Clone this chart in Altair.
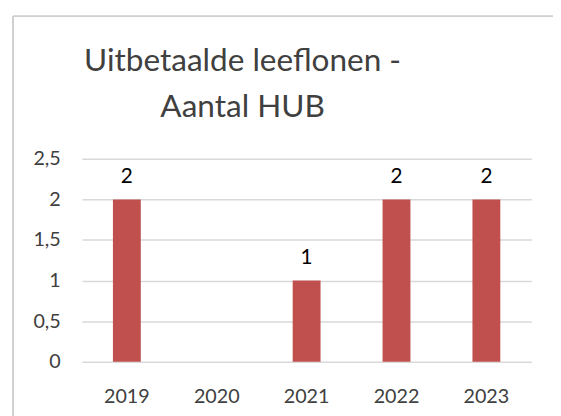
import altair as alt
import pandas as pd

years = ["2019", "2020", "2021", "2022", "2023"]
values = [2, None, 1, 2, 2]
y_ticks = [0, 0.5, 1, 1.5, 2, 2.5]
title_lines = ["Uitbetaalde leeflonen -", "Aantal HUB"]

df = pd.DataFrame({"jaar": years, "aantal": values})

FONT = "Lato"
BAR = "#C0504D"
GRID = "#D9D9D9"
TXT = "#404040"

x = alt.X("jaar:N", sort=years, title=None,
          scale=alt.Scale(paddingInner=0.69, paddingOuter=0.345),
          axis=alt.Axis(labelAngle=0, labelFontSize=20, labelFont=FONT,
                        labelColor=TXT, labelPadding=25, ticks=False,
                        domain=False, grid=False))
y = alt.Y("aantal:Q", title=None,
          scale=alt.Scale(domain=[0, 2.5], nice=False),
          axis=alt.Axis(values=y_ticks, labelFontSize=20, labelFont=FONT,
                        labelColor=TXT, labelPadding=22, ticks=False,
                        domain=False, grid=True, gridColor=GRID,
                        gridWidth=1.5,
                        labelExpr="replace(toString(datum.value), '.', ',')"))

bars = alt.Chart(df).mark_bar(color=BAR).encode(x=x, y=y)
labels = alt.Chart(df).transform_filter("isValid(datum.aantal)").mark_text(
    font=FONT, fontSize=21, color="#000000", dy=-17, baseline="alphabetic"
).encode(x=alt.X("jaar:N", sort=years), y="aantal:Q", text="aantal:Q")

border = alt.Chart(df).mark_rule(color="#D0D0D0", strokeWidth=1.5).encode(
    x=alt.value(-70), x2=alt.value(560), y=alt.value(-144.5))
border2 = alt.Chart(df).mark_rule(color="#D0D0D0", strokeWidth=1.5).encode(
    x=alt.value(-70), y=alt.value(-145), y2=alt.value(300))

chart = alt.layer(border, border2, bars, labels).properties(
    width=456, height=206,
    autosize=alt.AutoSizeParams(type="none"),
    padding={"left": 75, "top": 150, "right": 22, "bottom": 52},
    title=alt.TitleParams(text=title_lines, anchor="middle", frame="group",
                          font=FONT, fontSize=32, fontWeight="normal",
                          color=TXT, lineHeight=46, dx=-65, offset=0,
                          baseline="alphabetic", dy=135),
).configure_view(stroke=None)

chart.save("out.html", embed_options={"renderer": "svg", "actions": False})
